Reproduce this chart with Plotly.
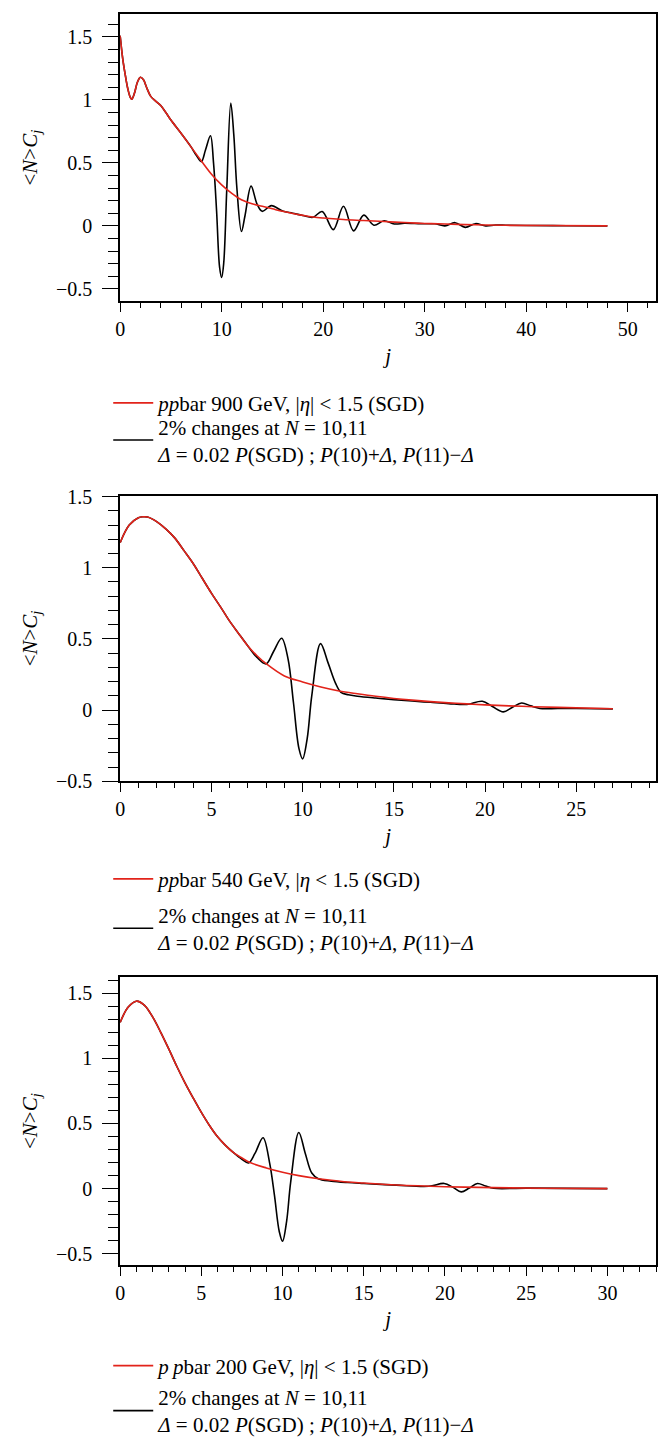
import plotly.graph_objects as go

# ---------------- data ----------------
# Panel 1: ppbar 900 GeV
j900_sgd = [0, 0.25, 0.5, 0.75, 1.0, 1.15, 1.4, 1.7, 2.0, 2.3, 2.6, 3.0, 3.5, 4.0, 4.5, 5, 6, 7, 8, 9, 10,
            11, 12, 13, 14, 15, 16, 17, 18, 19, 20, 22, 24, 26, 28, 30, 32, 35, 38, 42, 48]
c900_sgd = [1.51, 1.33, 1.2, 1.09, 1.02, 1.005, 1.05, 1.14, 1.18, 1.16, 1.10, 1.03, 0.99, 0.955, 0.90, 0.84,
            0.735, 0.625, 0.515, 0.41, 0.325, 0.258, 0.205, 0.175, 0.155, 0.135, 0.115, 0.098, 0.083, 0.07,
            0.062, 0.05, 0.042, 0.034, 0.026, 0.019, 0.014, 0.008, 0.004, 0.002, 0.0]
j900_mod = [0, 0.25, 0.5, 0.75, 1.0, 1.15, 1.4, 1.7, 2.0, 2.3, 2.6, 3.0, 3.5, 4.0, 4.5, 5, 6, 7, 7.5, 8.0,
            8.4, 8.9, 9.2, 9.5, 9.8, 10.0, 10.2, 10.5, 10.9, 11.2, 11.5, 11.95, 12.3, 12.9, 13.5, 14.0,
            14.9, 16, 17, 18, 19, 19.9, 21, 22, 23, 24, 25, 26, 27, 28, 29, 30, 31, 32, 33, 34, 35, 36,
            37, 38, 40, 44, 48]
c900_mod = [1.51, 1.33, 1.2, 1.09, 1.02, 1.005, 1.05, 1.14, 1.18, 1.16, 1.10, 1.03, 0.99, 0.955, 0.90, 0.84,
            0.735, 0.625, 0.56, 0.51, 0.60, 0.715, 0.5, 0.12, -0.33, -0.41, -0.3, 0.28, 0.975, 0.72, 0.3,
            -0.045, 0.08, 0.315, 0.17, 0.115, 0.16, 0.117, 0.10, 0.082, 0.068, 0.113, -0.03, 0.155, -0.04,
            0.085, 0.005, 0.04, 0.015, 0.02, 0.018, 0.016, 0.016, 0.0, 0.025, -0.012, 0.017, 0.0, 0.006,
            0.005, 0.003, 0.001, 0.0]

# Panel 2: ppbar 540 GeV
j540_sgd = [0, 0.5, 1.0, 1.25, 1.5, 2.0, 2.5, 3.0, 3.5, 4.0, 4.5, 5.0, 5.5, 6.0, 6.5, 7.0, 7.5, 8.0, 9, 10,
            11, 12, 13, 14, 15, 16, 17, 18, 19, 20, 22, 24, 27]
c540_sgd = [1.176, 1.30, 1.351, 1.358, 1.356, 1.324, 1.273, 1.208, 1.12, 1.03, 0.926, 0.822, 0.725, 0.625,
            0.537, 0.451, 0.382, 0.326, 0.24, 0.198, 0.163, 0.135, 0.115, 0.097, 0.082, 0.07, 0.06, 0.051,
            0.044, 0.037, 0.027, 0.019, 0.01]
j540_mod = [0, 0.5, 1.0, 1.25, 1.5, 2.0, 2.5, 3.0, 3.5, 4.0, 4.5, 5.0, 5.5, 6.0, 6.5, 7.0, 7.5, 8.0, 8.4,
            8.85, 9.2, 9.5, 9.8, 10.0, 10.25, 10.5, 10.98, 11.4, 11.8, 12.1, 12.5, 13, 14, 15, 16, 17, 18,
            19, 19.85, 20.4, 21, 21.5, 22, 22.5, 23, 24, 25, 27]
c540_mod = [1.176, 1.30, 1.351, 1.358, 1.356, 1.324, 1.273, 1.208, 1.12, 1.03, 0.926, 0.822, 0.725, 0.625,
            0.537, 0.451, 0.37, 0.325, 0.41, 0.505, 0.36, 0.05, -0.27, -0.342, -0.2, 0.1, 0.467, 0.33, 0.19,
            0.125, 0.108, 0.098, 0.085, 0.074, 0.064, 0.055, 0.046, 0.04, 0.062, 0.025, -0.012, 0.02, 0.05,
            0.03, 0.012, 0.012, 0.011, 0.009]

# Panel 3: ppbar 200 GeV
j200_sgd = [0, 0.5, 1.0, 1.5, 2.0, 2.5, 3.0, 3.5, 4.0, 4.5, 5.0, 5.5, 6.0, 6.5, 7.0, 7.5, 8.0, 9, 10, 11, 12,
            13, 14, 15, 17, 20, 23, 26, 30]
c200_sgd = [1.275, 1.393, 1.438, 1.406, 1.317, 1.199, 1.07, 0.935, 0.81, 0.695, 0.585, 0.485, 0.398, 0.33,
            0.274, 0.235, 0.2, 0.159, 0.126, 0.1, 0.08, 0.064, 0.051, 0.043, 0.028, 0.015, 0.008, 0.003, 0.0]
j200_mod = [0, 0.5, 1.0, 1.5, 2.0, 2.5, 3.0, 3.5, 4.0, 4.5, 5.0, 5.5, 6.0, 6.5, 7.0, 7.5, 7.9, 8.3, 8.8, 9.2,
            9.5, 9.8, 10.0, 10.25, 10.5, 11.0, 11.4, 11.8, 12.2, 13, 14, 15, 17, 19, 19.95, 20.5, 21, 21.5,
            22, 22.5, 23, 25, 30]
c200_mod = [1.275, 1.393, 1.438, 1.406, 1.317, 1.199, 1.07, 0.935, 0.81, 0.695, 0.585, 0.485, 0.398, 0.33,
            0.274, 0.225, 0.197, 0.27, 0.39, 0.2, -0.05, -0.33, -0.403, -0.25, 0.05, 0.431, 0.27, 0.12,
            0.076, 0.058, 0.047, 0.04, 0.027, 0.018, 0.04, 0.01, -0.025, 0.005, 0.04, 0.02, 0.003, 0.004, 0.0]

sgd_names = ["<i>pp</i>bar 900 GeV, |<i>η</i>| &lt; 1.5 (SGD)",
             "<i>pp</i>bar 540 GeV, |<i>η</i> &lt; 1.5 (SGD)",
             "<i>p\u2009p</i>bar 200 GeV, |<i>η</i>| &lt; 1.5 (SGD)"]
mod_name = ("2% changes at <i>N</i> = 10,11<br><i>Δ</i> = 0.02 <i>P</i>(SGD) ; "
            "<i>P</i>(10)+<i>Δ</i>, <i>P</i>(11)−<i>Δ</i>")

x_ranges = [[0, 52.8], [0, 29.37], [0, 33.0]]
y_ranges = [[-0.597, 1.68], [-0.5, 1.507], [-0.584, 1.62]]
x_dticks = [10, 5, 5]
x_minor = [2, 1, 1]

# ---------------- layout geometry ----------------
W, H = 671, 1446
RED = "#e2231a"
FONT = "Liberation Serif"


def py(p):
    return 1 - p / H


plot_px = [(4.3, 295.3), (492.7, 782.7), (981.7, 1273.3)]
# vertical centres (px) of the two legend entries of each panel
legend_red_mid = [399, 882, 1376]
legend_blk_mid = [436.5, 932, 1421.5]

fig = go.Figure()
panels = [(j900_sgd, c900_sgd, j900_mod, c900_mod),
          (j540_sgd, c540_sgd, j540_mod, c540_mod),
          (j200_sgd, c200_sgd, j200_mod, c200_mod)]


def legname(k):
    return "legend" if k == 1 else "legend%d" % k


for i, (js, cs, jm, cm) in enumerate(panels):
    sfx = "" if i == 0 else str(i + 1)
    fig.add_trace(go.Scatter(x=jm, y=cm, mode="lines", line=dict(color="black", width=1.6, shape="spline"),
                             xaxis="x" + sfx, yaxis="y" + sfx, name=mod_name, legend=legname(2 * i + 2),
                             showlegend=True))
    fig.add_trace(go.Scatter(x=js, y=cs, mode="lines", line=dict(color=RED, width=1.6, shape="spline"),
                             xaxis="x" + sfx, yaxis="y" + sfx, name=sgd_names[i], legend=legname(2 * i + 1),
                             showlegend=True))

layout = dict(width=W, height=H, margin=dict(l=0, r=0, t=0, b=0), showlegend=True,
              paper_bgcolor="white", plot_bgcolor="white",
              font=dict(family=FONT, size=20, color="black"))

xdom = [116 / W, 656 / W]
for i in range(3):
    sfx = "" if i == 0 else str(i + 1)
    top, bot = plot_px[i]
    axis_common = dict(showline=True, linecolor="black", linewidth=1.6, mirror=True,
                       showgrid=False, zeroline=False, ticks="outside", tickcolor="black",
                       tickwidth=1.2, tickfont=dict(family=FONT, size=20, color="black"))
    layout["xaxis" + sfx] = dict(axis_common, domain=xdom, range=x_ranges[i], dtick=x_dticks[i], tick0=0,
                                 anchor="y" + sfx, ticklen=9,
                                 minor=dict(dtick=x_minor[i], ticklen=5, ticks="outside",
                                            tickcolor="black", tickwidth=1.2),
                                 title=dict(text="<i>j</i>", standoff=9,
                                            font=dict(family=FONT, size=21)))
    layout["yaxis" + sfx] = dict(axis_common, domain=[py(bot), py(top)], range=y_ranges[i], dtick=0.5,
                                 tick0=0, anchor="x" + sfx, ticklen=16, ticklabelstandoff=6,
                                 minor=dict(dtick=0.1, ticklen=10, ticks="outside",
                                            tickcolor="black", tickwidth=1.2),
                                 title=dict(text="&lt;<i>N</i>&gt;<i>C<sub>j</sub></i>", standoff=13,
                                            font=dict(family=FONT, size=21)))
    for k, mid in ((2 * i + 1, legend_red_mid[i]), (2 * i + 2, legend_blk_mid[i])):
        layout[legname(k)] = dict(x=104 / W, xanchor="left", y=py(mid), yanchor="middle",
                                  bgcolor="rgba(0,0,0,0)", borderwidth=0, valign="middle",
                                  font=dict(family=FONT, size=21, color="black"), itemwidth=40)

fig.update_layout(**layout)
fig.write_html("out.html")
